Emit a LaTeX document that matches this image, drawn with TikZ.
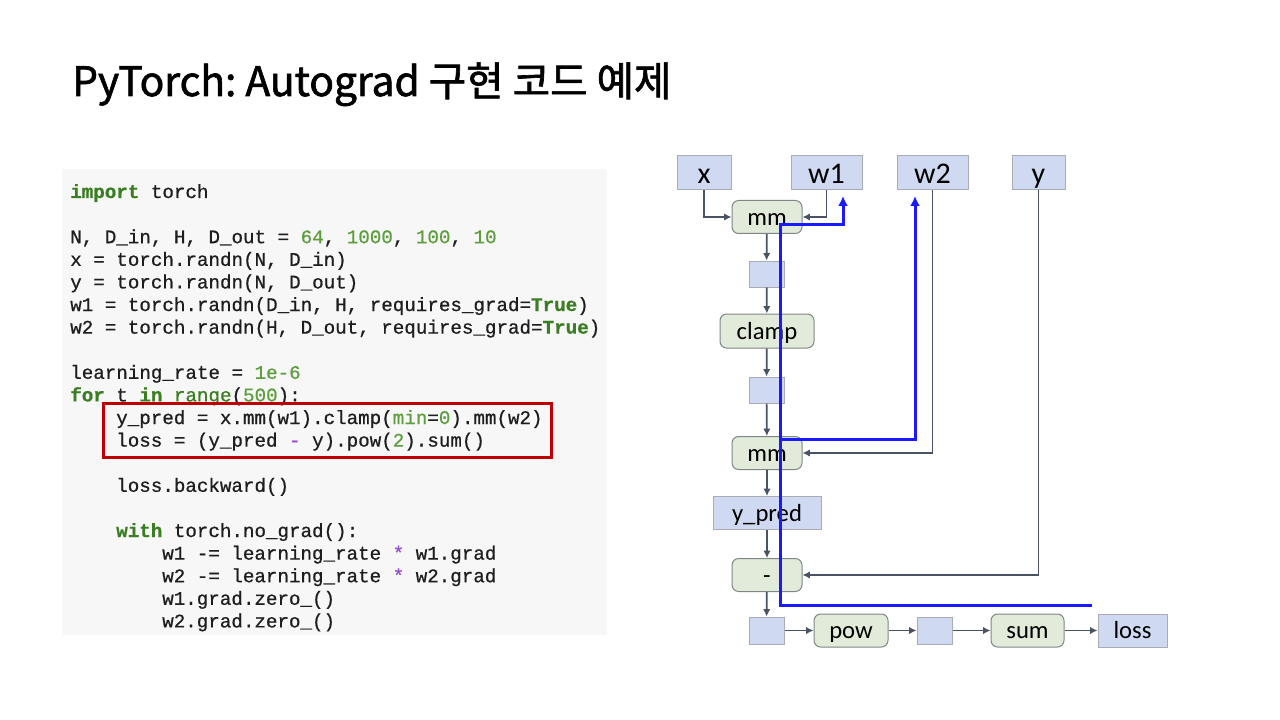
\documentclass[tikz,border=0pt]{standalone}
\usepackage{fontspec}
\setmainfont{Carlito}
\newfontfamily\krfont[FakeBold=1.6]{Noto Sans CJK KR}
\newfontfamily\codefont[FakeBold=0.7]{Liberation Mono}
\usetikzlibrary{arrows.meta}
\definecolor{kwcol}{HTML}{3A7D22}
\definecolor{numcol}{HTML}{5E9E3E}
\definecolor{opcol}{HTML}{9B4DE0}
\definecolor{panelcol}{HTML}{F7F7F7}
\definecolor{boxblue}{HTML}{CFDAF2}
\definecolor{boxgreen}{HTML}{E2EBD9}
\definecolor{conncol}{HTML}{4A5364}
\definecolor{bdrblue}{HTML}{A8ADB5}
\definecolor{bdrgreen}{HTML}{7E8787}
\definecolor{redcol}{HTML}{C00000}
\definecolor{flowcol}{HTML}{1A1AFF}
\definecolor{codetext}{HTML}{1E1E1E}
\newcommand{\kwd}[1]{\textcolor{kwcol}{\bfseries #1}}
\newcommand{\bltn}[1]{\textcolor{kwcol}{#1}}
\newcommand{\nmb}[1]{\textcolor{numcol}{#1}}
\newcommand{\opr}[1]{\textcolor{opcol}{#1}}
\frenchspacing
\begin{document}
\begin{tikzpicture}[x=0.75pt,y=-0.75pt,
  varbox/.style={draw=bdrblue, fill=boxblue, line width=0.75pt, inner sep=0pt, text=black},
  fnbox/.style={draw=bdrgreen, fill=boxgreen, line width=0.75pt, rounded corners=5pt, inner sep=0pt, text=black},
  bigtxt/.style={font=\fontsize{22.5}{24}\selectfont, text height=17pt, text depth=0.5pt},
  smalltxt/.style={font=\fontsize{18.5}{20}\selectfont, text height=12.5pt, text depth=0.5pt},
  conn/.style={draw=conncol, line width=1.3pt, -{Latex[length=5.5pt,width=5.5pt]}},
  flow/.style={draw=flowcol, line width=2.25pt, -{Latex[length=7.5pt,width=7.5pt]}},
  codeline/.style={anchor=base west, inner sep=0pt, text=codetext, font=\codefont\fontsize{14.4}{17}\selectfont}
]
\useasboundingbox (0,0) rectangle (1280,720);
\fill[white] (0,0) rectangle (1280,720);

% title
\node[anchor=base west, inner sep=0pt, font=\krfont\fontsize{30.5}{33}\selectfont] (title) at (72,96) {PyTorch: Autograd 구현 코드 예제};

% code panel
\node[anchor=north west, fill=panelcol, inner sep=0pt, minimum width=408.75pt, minimum height=349.5pt] (panel) at (62,169) {};

\node[codeline] (c0) at (70,198.0) {\kwd{import} torch};
\node[codeline] (c2) at (70,243.2) {N, D\_in, H, D\_out = \nmb{64}, \nmb{1000}, \nmb{100}, \nmb{10}};
\node[codeline] (c3) at (70,265.8) {x = torch.randn(N, D\_in)};
\node[codeline] (c4) at (70,288.4) {y = torch.randn(N, D\_out)};
\node[codeline] (c5) at (70,311.0) {w1 = torch.randn(D\_in, H, requires\_grad=\kwd{True})};
\node[codeline] (c6) at (70,333.6) {w2 = torch.randn(H, D\_out, requires\_grad=\kwd{True})};
\node[codeline] (c8) at (70,378.8) {learning\_rate = \nmb{1e-6}};
\node[codeline] (c9) at (70,401.4) {\kwd{for} t \kwd{in} \bltn{range}(\nmb{500}):};
\node[codeline] (c10) at (116,424.0) {y\_pred = x.mm(w1).clamp(\nmb{min}=\nmb{0}).mm(w2)};
\node[codeline] (c11) at (116,446.6) {loss = (y\_pred \opr{-} y).pow(\nmb{2}).sum()};
\node[codeline] (c13) at (116,491.8) {loss.backward()};
\node[codeline] (c15) at (116,537.0) {\kwd{with} torch.no\_grad():};
\node[codeline] (c16) at (162,559.6) {w1 -= learning\_rate \opr{*} w1.grad};
\node[codeline] (c17) at (162,582.2) {w2 -= learning\_rate \opr{*} w2.grad};
\node[codeline] (c18) at (162,604.8) {w1.grad.zero\_()};
\node[codeline] (c19) at (162,627.4) {w2.grad.zero\_()};

% red highlight box
\draw[redcol, line width=2.25pt] (103,403) rectangle (551,457);

% graph nodes
\node[varbox, bigtxt, minimum width=40.5pt, minimum height=25.5pt] (x) at (704,173) {x};
\node[varbox, bigtxt, minimum width=53.25pt, minimum height=25.5pt] (w1) at (826.5,173) {w1};
\node[varbox, bigtxt, minimum width=53.25pt, minimum height=25.5pt] (w2) at (932.5,173) {w2};
\node[varbox, bigtxt, minimum width=39.75pt, minimum height=25.5pt] (y) at (1038.5,173) {y};

\node[fnbox, smalltxt, minimum width=52.5pt, minimum height=24.75pt] (mm1) at (767,217) {mm};
\node[varbox, minimum width=26.25pt, minimum height=19.5pt] (b1) at (766.5,274) {};
\node[fnbox, smalltxt, minimum width=70.5pt, minimum height=25.5pt] (clamp) at (767,331) {clamp};
\node[varbox, minimum width=26.25pt, minimum height=19.5pt] (b2) at (766.5,390) {};
\node[fnbox, smalltxt, minimum width=52.5pt, minimum height=24.75pt] (mm2) at (767,453) {mm};
\node[varbox, smalltxt, minimum width=81pt, minimum height=24.75pt] (ypred) at (767,513) {y\_pred};
\node[fnbox, smalltxt, minimum width=52.5pt, minimum height=24.75pt] (minus) at (767,575) {-};
\node[varbox, minimum width=26.25pt, minimum height=20.25pt] (b3) at (766.5,630.5) {};
\node[fnbox, smalltxt, minimum width=55.5pt, minimum height=24.75pt] (pow) at (851,630.5) {pow};
\node[varbox, minimum width=26.25pt, minimum height=20.25pt] (b4) at (934.5,630.5) {};
\node[fnbox, smalltxt, minimum width=54.75pt, minimum height=24.75pt] (sum) at (1027.5,630.5) {sum};
\node[varbox, smalltxt, minimum width=51.75pt, minimum height=24.75pt] (loss) at (1132.5,630.5) {loss};

% gray connectors
\draw[conn] (x.south) |- (mm1.west);
\draw[conn] (w1.south) |- (mm1.east);
\draw[conn] (mm1) -- (b1);
\draw[conn] (b1) -- (clamp);
\draw[conn] (clamp) -- (b2);
\draw[conn] (b2) -- (mm2);
\draw[conn] (w2.south) |- (mm2.east);
\draw[conn] (mm2) -- (ypred);
\draw[conn] (ypred) -- (minus);
\draw[conn] (y.south) |- (minus.east);
\draw[conn] (minus) -- (b3);
\draw[conn] (b3) -- (pow);
\draw[conn] (pow) -- (b4);
\draw[conn] (b4) -- (sum);
\draw[conn] (sum) -- (loss);

% blue backward flow
\coordinate (fstart) at (1092,605);
\coordinate (fturn1) at (780,225);
\coordinate (fturn2) at (780,439);
\coordinate (g1) at (843,196);
\coordinate (g2) at (915,196);
\draw[flow] (fstart) -| (fturn1) -| (g1);
\draw[flow] (fturn2) -| (g2);
\end{tikzpicture}
\end{document}
